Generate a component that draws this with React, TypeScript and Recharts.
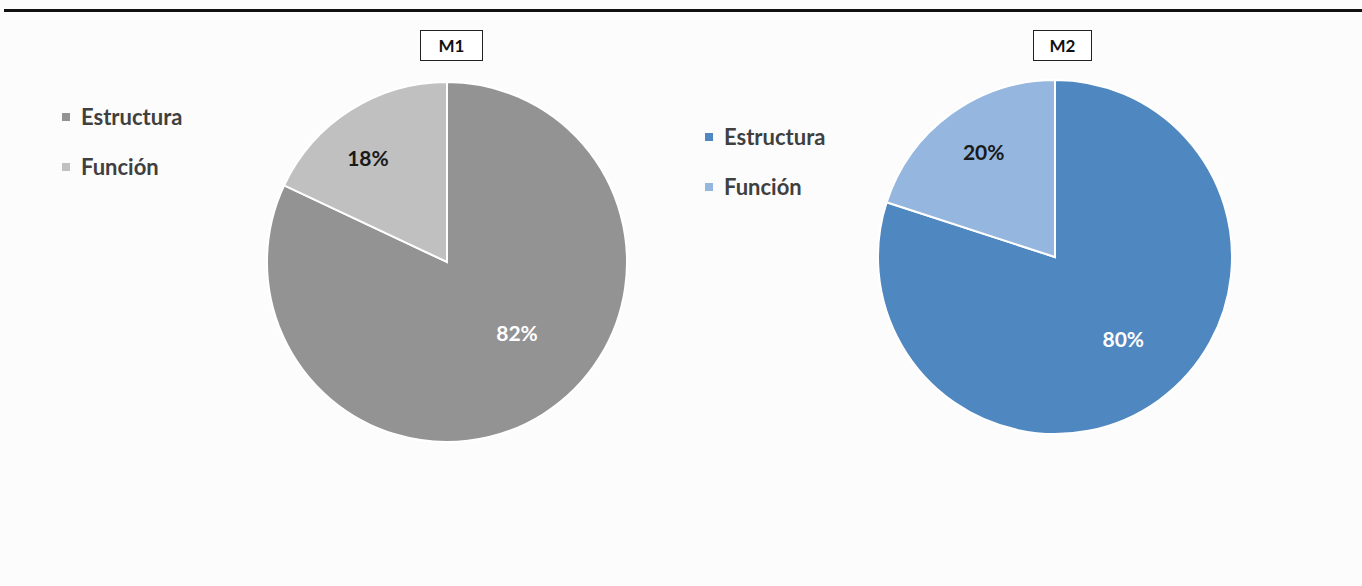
import React from "react";
import { PieChart, Pie, Cell } from "recharts";

const categories = ["Estructura", "Función"];
const m1Values = [82, 18];
const m2Values = [80, 20];
const titles = ["M1", "M2"];

const m1Colors = ["#939393", "#c0c0c0"];
const m2Colors = ["#4f87c0", "#95b7df"];
const labelColors = ["#ffffff", "#1a1a1a"];

const FONT = "Lato, 'Open Sans', sans-serif";

const W = 1362;
const H = 586;

const RAD = Math.PI / 180;

// label placement: [angle in degrees (recharts convention), radius fraction]
const labelPlacement = [
  [-45, 0.55],
  [127, 0.73],
];
const labelPlacement2 = [
  [-50, 0.6],
  [124, 0.72],
];

function makeLabel(placement: number[][]) {
  return (props: any) => {
    const { cx, cy, outerRadius, index, percent } = props;
    const [ang, frac] = placement[index];
    const x = cx + outerRadius * frac * Math.cos(ang * RAD);
    const y = cy - outerRadius * frac * Math.sin(ang * RAD);
    return (
      <text
        x={x}
        y={y}
        fill={labelColors[index]}
        textAnchor="middle"
        dominantBaseline="central"
        fontFamily={FONT}
        fontWeight={700}
        fontSize={21}
      >
        {`${Math.round(percent * 100)}%`}
      </text>
    );
  };
}

const d1 = categories.map((name, i) => ({ name, value: m1Values[i] }));
const d2 = categories.map((name, i) => ({ name, value: m2Values[i] }));

function LegendBlock({ left, top, colors }: { left: number; top: number; colors: string[] }) {
  return (
    <div style={{ position: "absolute", left, top }}>
      {categories.map((c, i) => (
        <div
          key={c}
          style={{
            position: "absolute",
            left: 0,
            top: i * 50,
            display: "flex",
            alignItems: "center",
            whiteSpace: "nowrap",
            height: 24,
          }}
        >
          <div style={{ width: 8, height: 8, background: colors[i], marginRight: 11 }} />
          <span
            style={{
              fontFamily: FONT,
              fontWeight: 700,
              fontSize: 22,
              color: "#404040",
              lineHeight: "24px",
            }}
          >
            {c}
          </span>
        </div>
      ))}
    </div>
  );
}

function TitleBox({ left, top, width, text }: { left: number; top: number; width: number; text: string }) {
  return (
    <div
      style={{
        position: "absolute",
        left,
        top,
        width,
        height: 31,
        border: "1.5px solid #222",
        boxSizing: "border-box",
        background: "#ffffff",
        display: "flex",
        alignItems: "center",
        justifyContent: "center",
        fontFamily: FONT,
        fontWeight: 700,
        fontSize: 17,
        color: "#111",
      }}
    >
      {text}
    </div>
  );
}

export default function App() {
  return (
    <div
      style={{
        position: "absolute",
        left: 0,
        top: 0,
        width: W,
        height: H,
        background: "#fcfcfc",
        overflow: "hidden",
      }}
    >
      <div style={{ position: "absolute", left: 4, top: 9, width: W, height: 3, background: "#111" }} />
      <div style={{ position: "absolute", left: 0, top: 0 }}>
        <PieChart width={W} height={H} margin={{ top: 0, right: 0, bottom: 0, left: 0 }}>
          <Pie
            data={d1}
            dataKey="value"
            nameKey="name"
            cx={447}
            cy={262}
            outerRadius={180}
            startAngle={90}
            endAngle={-270}
            stroke="#ffffff"
            strokeWidth={2}
            isAnimationActive={false}
            labelLine={false}
            label={makeLabel(labelPlacement)}
          >
            {d1.map((e, i) => (
              <Cell key={e.name} fill={m1Colors[i]} />
            ))}
          </Pie>
          <Pie
            data={d2}
            dataKey="value"
            nameKey="name"
            cx={1055}
            cy={257}
            outerRadius={177}
            startAngle={90}
            endAngle={-270}
            stroke="#ffffff"
            strokeWidth={2}
            isAnimationActive={false}
            labelLine={false}
            label={makeLabel(labelPlacement2)}
          >
            {d2.map((e, i) => (
              <Cell key={e.name} fill={m2Colors[i]} />
            ))}
          </Pie>
        </PieChart>
      </div>
      <TitleBox left={420} top={30} width={63} text={titles[0]} />
      <TitleBox left={1033} top={30} width={59} text={titles[1]} />
      <LegendBlock left={62} top={105} colors={m1Colors} />
      <LegendBlock left={705} top={125} colors={m2Colors} />
    </div>
  );
}
